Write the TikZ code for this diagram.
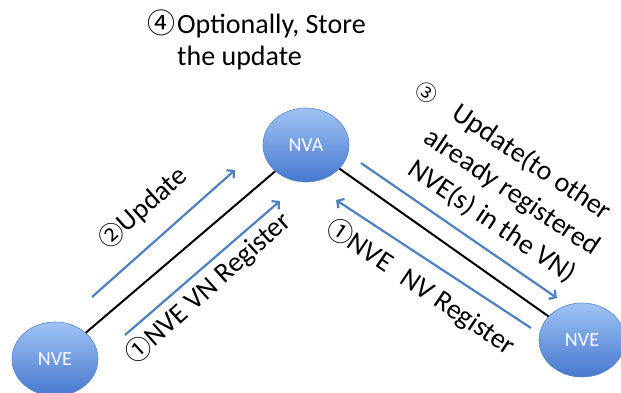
\documentclass[tikz,border=0pt]{standalone}
\usepackage{fontspec}
\setmainfont{Carlito}
\newfontfamily\circfont{Noto Sans CJK JP}
\usetikzlibrary{shapes.geometric,arrows.meta}
\definecolor{arrowblue}{RGB}{79,129,189}
\definecolor{ntop}{RGB}{160,195,245}
\definecolor{nbot}{RGB}{70,120,205}
\definecolor{nborder}{RGB}{90,135,200}
\begin{document}
\begin{tikzpicture}[x=1pt,y=-1pt,
  entity/.style={ellipse, minimum width=86pt, minimum height=74pt, inner sep=0pt,
    draw=nborder, line width=0.6pt, top color=ntop, bottom color=nbot,
    text=white, font=\fontsize{20}{24}\selectfont},
  link/.style={line width=2pt, black},
  msg/.style={line width=2.2pt, arrowblue, -{Straight Barb[length=5pt,width=11pt]}},
  lbl/.style={font=\fontsize{28}{35.6}\selectfont, inner sep=0pt}]
\useasboundingbox (0,0) rectangle (621,392);
\fill[white] (0,0) rectangle (621,392);

% entities
\node[entity] (nva)  at (306,145) {NVA};
\node[entity] (nvel) at (55,359)  {NVE};
\node[entity] (nver) at (582,340) {NVE};

% links
\draw[link] (nvel) -- (nva);
\draw[link] (nva) -- (nver);

% message arrows
\coordinate (a2s)  at (92,297);  \coordinate (a2e)  at (235,170);
\coordinate (a1s)  at (125,335); \coordinate (a1e)  at (280,201);
\coordinate (a3s)  at (361,163); \coordinate (a3e)  at (557,298);
\coordinate (a1rs) at (531,328); \coordinate (a1re) at (336,200);
\draw[msg] (a2s) -- (a2e);
\draw[msg] (a1s) -- (a1e);
\draw[msg] (a3s) -- (a3e);
\draw[msg] (a1rs) -- (a1re);

% labels
\node[lbl, anchor=base west] (t4a) at (177,33)
  {\llap{{\circfont\fontsize{28}{28}\selectfont ④}\hspace{2pt}}Optionally, Store};
\node[lbl, anchor=base west] (t4b) at (177,65) {the update};

\node[lbl, rotate=42] (t2) at (143,208)
  {{\circfont\fontsize{25}{25}\selectfont ②}Update};
\node[lbl, rotate=42] (t1a) at (208,288)
  {{\circfont\fontsize{26}{26}\selectfont ①}NVE VN Register};
\node[lbl, rotate=-34] (t1b) at (421,287)
  {{\circfont\fontsize{26}{26}\selectfont ①}NVE\hspace{16pt}NV Register};
\node[lbl, rotate=-34, align=center] (t3) at (512,192)
  {Update(to other\\already registered\\NVE(s) in the VN)};
\node[font=\circfont\fontsize{21}{21}\selectfont, inner sep=0pt, rotate=-34] (c3) at (427,93) {③};
\end{tikzpicture}
\end{document}
